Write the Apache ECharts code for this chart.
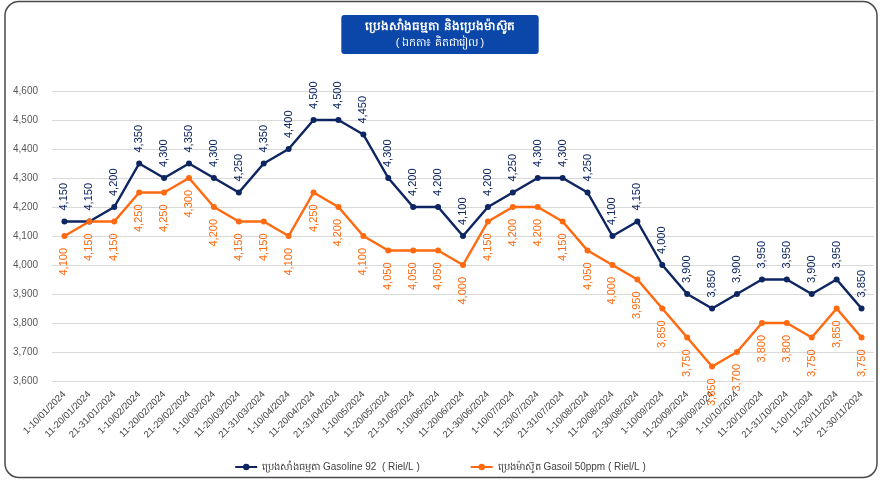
<!DOCTYPE html>
<html>
<head>
<meta charset="utf-8">
<script src="https://cdn.jsdelivr.net/npm/echarts@6/dist/echarts.min.js"></script>
<style>
    html, body {margin: 0; padding: 0; background: #fff;}
    #main {width: 880px; height: 480px;}
</style>
</head>
<body>
<div id="main"></div>
<script>
// 日期区间（每月三旬）
var periods = [
    '1-10/01/2024', '11-20/01/2024', '21-31/01/2024',
    '1-10/02/2024', '11-20/02/2024', '21-29/02/2024',
    '1-10/03/2024', '11-20/03/2024', '21-31/03/2024',
    '1-10/04/2024', '11-20/04/2024', '21-31/04/2024',
    '1-10/05/2024', '11-20/05/2024', '21-31/05/2024',
    '1-10/06/2024', '11-20/06/2024', '21-30/06/2024',
    '1-10/07/2024', '11-20/07/2024', '21-31/07/2024',
    '1-10/08/2024', '11-20/08/2024', '21-30/08/2024',
    '1-10/09/2024', '11-20/09/2024', '21-30/09/2024',
    '1-10/10/2024', '11-20/10/2024', '21-31/10/2024',
    '1-10/11/2024', '11-20/11/2024', '21-30/11/2024'
];

var gasolineName = 'ប្រេងសាំងធម្មតា Gasoline 92  ( Riel/L )';
var gasoilName = 'ប្រេងម៉ាស៊ូត Gasoil 50ppm ( Riel/L )';

var gasoline = [4150, 4150, 4200, 4350, 4300, 4350, 4300, 4250, 4350, 4400, 4500, 4500,
    4450, 4300, 4200, 4200, 4100, 4200, 4250, 4300, 4300, 4250, 4100, 4150,
    4000, 3900, 3850, 3900, 3950, 3950, 3900, 3950, 3850];
var gasoil = [4100, 4150, 4150, 4250, 4250, 4300, 4200, 4150, 4150, 4100, 4250, 4200,
    4100, 4050, 4050, 4050, 4000, 4150, 4200, 4200, 4150, 4050, 4000, 3950,
    3850, 3750, 3650, 3700, 3800, 3800, 3750, 3850, 3750];

var yMin = 3600, yMax = 4600, yStep = 100;

var navy = '#0D2560';
var orange = '#FF6A10';
var font = '"Liberation Sans", Arial, "Noto Sans", sans-serif';

var myChart = echarts.init(document.getElementById('main'));

var fmt = function (p) {
    return p.value.toLocaleString('en-US');
};

var option = {
    animation: false,
    backgroundColor: '#fff',
    textStyle: {fontFamily: font},
    title: {
        text: 'ប្រេងសាំងធម្មតា និងប្រេងម៉ាស៊ូត',
        subtext: '( ឯកតា៖ គិតជារៀល )',
        left: 'center',
        top: 15,
        itemGap: 4,
        padding: [6, 24, 6, 24],
        backgroundColor: '#0B47A8',
        borderRadius: 3,
        textStyle: {color: '#fff', fontSize: 12, fontWeight: 'bold', fontFamily: font},
        subtextStyle: {color: '#fff', fontSize: 11, fontFamily: font}
    },
    graphic: [{
        type: 'rect',
        shape: {x: 5, y: 1.5, width: 872, height: 476, r: 14},
        style: {fill: 'none', stroke: '#4a4a4a', lineWidth: 1.5},
        silent: true
    }],
    legend: {
        bottom: 3,
        left: 'center',
        itemGap: 50,
        itemWidth: 22,
        itemHeight: 8,
        textStyle: {color: '#404040', fontSize: 10, fontFamily: font},
        data: [gasolineName, gasoilName]
    },
    grid: {left: 52, right: 6, top: 91, bottom: 99},
    xAxis: {
        type: 'category',
        data: periods,
        axisLine: {show: false},
        axisTick: {show: false},
        axisLabel: {
            rotate: 45,
            interval: 0,
            fontSize: 9.5,
            color: '#404040',
            margin: 12
        }
    },
    yAxis: {
        type: 'value',
        min: yMin,
        max: yMax,
        interval: yStep,
        axisLine: {show: false},
        axisTick: {show: false},
        axisLabel: {
            fontSize: 10,
            color: '#595959',
            margin: 14,
            formatter: function (v) { return v.toLocaleString('en-US'); }
        },
        splitLine: {lineStyle: {color: '#d9d9d9', width: 1}}
    },
    series: [
        {
            name: gasolineName,
            type: 'line',
            data: gasoline,
            symbol: 'circle',
            symbolSize: 6,
            color: navy,
            lineStyle: {width: 2.5, color: navy},
            label: {
                show: true,
                position: 'top',
                distance: 8,
                rotate: 90,
                align: 'left',
                verticalAlign: 'middle',
                fontSize: 11,
                color: navy,
                formatter: fmt
            }
        },
        {
            name: gasoilName,
            type: 'line',
            data: gasoil,
            symbol: 'circle',
            symbolSize: 6,
            color: orange,
            lineStyle: {width: 2.5, color: orange},
            label: {
                show: true,
                position: 'bottom',
                distance: 9,
                rotate: 90,
                align: 'right',
                verticalAlign: 'middle',
                fontSize: 11,
                color: orange,
                formatter: fmt
            }
        }
    ]
};

myChart.setOption(option);
</script>
</body>
</html>
